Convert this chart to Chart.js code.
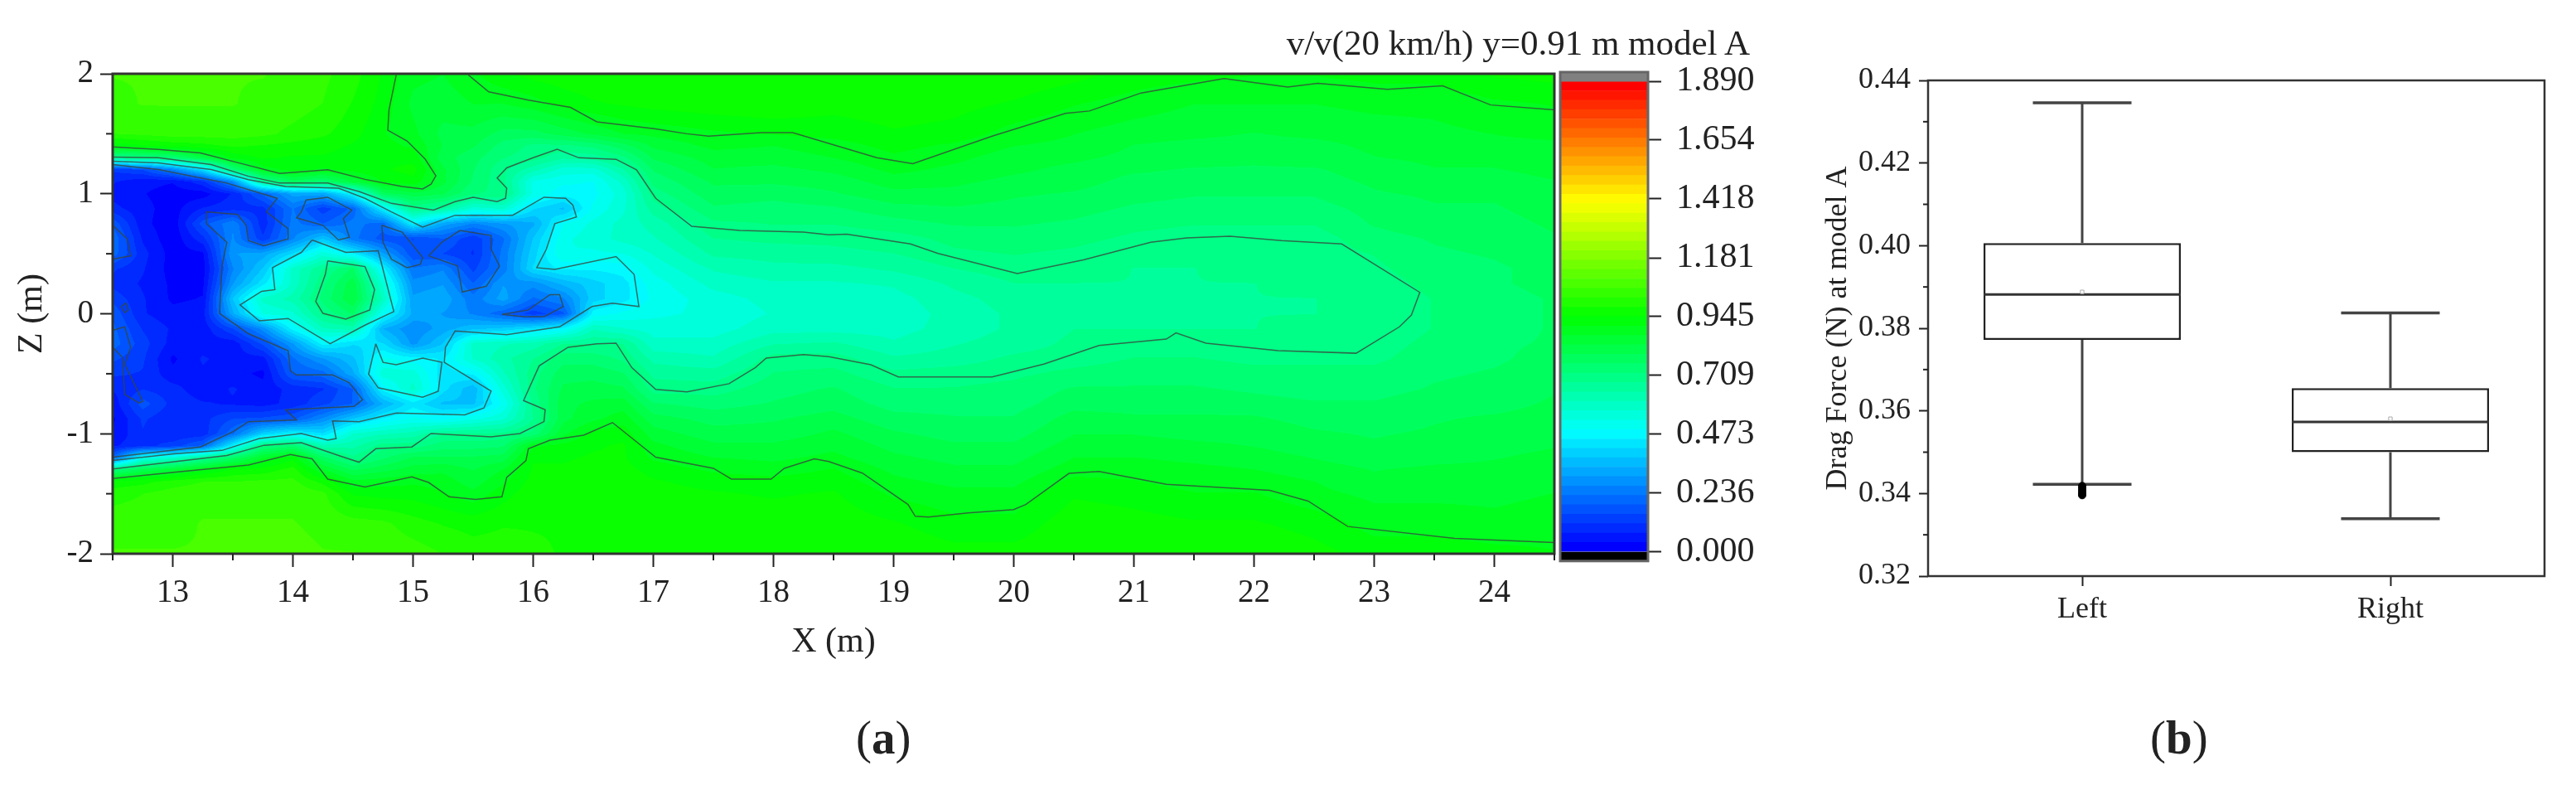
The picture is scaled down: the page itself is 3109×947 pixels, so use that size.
<!DOCTYPE html>
<html lang="en">
<head>
<meta charset="UTF-8">
<title>Velocity contour and drag force at model A</title>
<script src="https://cdn.jsdelivr.net/npm/chart.js"></script>
<style>
    html, body { margin: 0; padding: 0; background: #fff; overflow: hidden; }
    body { width: 3109px; height: 947px; position: relative; font-family: "Liberation Serif", serif; color: #222; }
    canvas { position: absolute; filter: blur(0.6px); }
    .note { position: absolute; white-space: nowrap; line-height: 1; filter: blur(0.5px); }
</style>
</head>
<body>
    <canvas id="contourChart" width="1885" height="800" style="left:0;top:0"></canvas>
    <canvas id="colorbarChart" width="260" height="720" style="left:1880px;top:0"></canvas>
    <canvas id="boxChart" width="959" height="800" style="left:2150px;top:0"></canvas>
    <div class="note" id="fieldTitle" style="right:997px;top:30px;font-size:43px">v/v(20 km/h) y=0.91 m model A</div>
    <div class="note" style="left:1033px;top:861px;font-size:57px">(<b>a</b>)</div>
    <div class="note" style="left:2595px;top:861px;font-size:57px">(<b>b</b>)</div>

<script>
// panel a: grid, v/v x 100, one line per x column
const xColumns = [12.5,12.75,13,13.25,13.5,13.75,14,14.25,14.5,14.75,15,15.25,15.5,15.75,16,16.25,16.5,16.75,17,
    17.5,18,18.5,19,19.5,20,20.5,21,21.5,22,22.5,23,23.5,24,24.5];
const zRows = [2,1.75,1.5,1.4,1.3,1.2,1.1,1,
    .875,.75,.625,.5,.375,.25,.125,0,
    -.125,-.25,-.375,-.5,-.625,-.75,-.875,
    -1,-1.1,-1.2,-1.3,-1.4,-1.5,-1.75,-2];
const fieldColumns = [
    [106,105,102,92,68,12,8,6, 9,18,22,21,12,10,14,18, 20,21,16,12,8,5,3, 4,7,20,72,96,100,105,106],
    [106,106,103,94,70,15,5,4, 5,5,7,9,8,7,8,8, 11,13,12,11,11,17,12, 11,10,52,80,97,102,105,106],
    [106,106,104,96,73,26,4,2, 2,1,1,2,2,3,3,5, 7,6,3,5,9,10,8, 8,13,57,85,100,104,105,106],
    [106,106,104,97,82,42,10,2, 8,17,10,3,2,3,4,6, 5,6,8,7,5,8,10, 9,20,67,90,102,105,106,106],
    [106,106,104,99,92,72,27,8, 10,26,27,30,26,30,38,33, 15,5,6,5,8,7,15, 22,46,76,95,102,105,106,107],
    [106,105,103,98,95,89,67,20, 10,9,12,32,38,44,58,53, 28,16,6,3,5,6,16, 40,71,87,96,103,105,106,107],
    [105,104,101,97,94,92,78,32, 23,24,26,42,58,58,62,56, 47,30,22,19,9,9,18, 47,74,93,100,103,105,106,107],
    [103,102,99,96,94,90,74,32, 13,19,38,55,68,71,73,69, 60,47,30,21,11,14,27, 42,62,77,87,97,103,105,106],
    [100,98,96,94,93,92,84,47, 20,24,24,46,76,82,83,76, 62,42,37,33,19,19,38, 57,63,69,79,88,94,104,106],
    [94,93,91,92,93,94,91,78, 46,21,17,31,47,56,60,50, 34,42,50,55,47,34,46, 60,70,75,82,89,93,103,105],
    [88,86,88,90,93,96,93,82, 69,46,15,16,23,28,31,33, 27,29,47,55,58,44,50, 62,70,80,85,90,93,100,104],
    [87,85,82,83,81,84,84,80, 65,32,19,15,26,30,33,30, 32,38,45,43,43,37,48, 68,74,80,86,89,91,98,102],
    [90,87,82,80,77,76,75,72, 55,26,12,11,14,19,24,26, 37,58,57,46,35,37,52, 68,74,80,83,85,88,97,100],
    [94,87,78,74,72,69,69,71, 57,30,22,24,24,30,32,20, 39,60,63,60,55,50,56, 69,75,81,87,90,93,98,100],
    [96,89,78,71,70,62,52,52, 42,33,38,40,42,28,22,13, 43,62,68,70,71,69,68, 73,90,94,95,96,97,98,99],
    [97,92,81,71,65,55,50,47, 37,49,52,53,46,35,26,18, 47,68,74,78,80,82,82, 86,92,94,95,96,97,98,98],
    [98,94,84,73,66,55,49,48, 50,54,55,52,46,40,40,47, 60,68,74,78,81,84,86, 92,94,95,96,97,97,98,98],
    [98,95,87,78,71,64,58,55, 56,58,58,53,47,44,44,50, 57,68,71,76,80,85,89, 93,95,95,96,97,97,98,98],
    [98,96,88,84,80,76,73,70, 66,62,60,57,54,51,50,52, 55,58,63,67,70,76,81, 85,88,90,93,95,96,98,98],
    [98,97,90,88,85,83,80,78, 75,71,68,65,61,58,55,54, 55,58,61,66,70,74,78, 81,84,87,90,93,95,97,98],
    [98,98,91,87,85,82,80,77, 74,72,69,66,63,60,58,57, 59,64,70,72,74,76,79, 81,84,86,89,92,94,97,98],
    [98,96,92,89,87,84,81,79, 75,72,69,67,63,60,57,57, 59,65,70,73,76,78,81, 84,86,88,91,93,95,97,98],
    [98,97,94,92,90,88,85,82, 78,74,70,68,65,61,59,58, 59,61,65,69,72,74,77, 80,82,84,86,88,90,95,98],
    [98,96,93,90,88,86,84,82, 79,76,73,71,68,65,63,62, 62,64,66,70,72,74,76, 78,80,82,84,86,88,92,96],
    [98,94,89,87,85,84,82,80, 78,76,74,72,70,68,66,65, 65,66,69,71,73,74,76, 78,80,82,84,86,88,92,96],
    [96,91,87,86,84,82,81,79, 77,75,73,71,69,68,68,67, 68,69,70,73,76,78,81, 83,85,87,89,92,94,97,98],
    [93,89,85,83,82,80,78,77, 75,73,71,69,68,68,67,67, 68,70,72,74,76,78,80, 83,85,87,89,91,93,96,98],
    [92,87,84,82,81,79,78,76, 74,72,70,69,68,68,67,67, 68,70,72,74,76,78,80, 82,84,86,88,89,91,95,98],
    [91,87,83,82,80,79,77,76, 74,72,70,69,69,68,68,68, 68,69,71,73,75,77,80, 82,83,85,87,89,91,95,98],
    [91,87,84,82,81,79,78,76, 74,72,70,70,69,69,68,68, 69,69,71,73,74,76,78, 80,81,83,85,87,88,93,96],
    [92,88,85,84,83,81,80,79, 77,76,74,72,71,70,69,69, 69,70,71,73,74,76,77, 79,80,81,83,84,86,89,93],
    [92,88,86,85,84,83,82,80, 79,78,76,75,74,73,72,72, 72,73,74,75,76,78,79, 80,81,82,84,85,86,89,93],
    [95,90,87,86,84,83,82,80, 79,78,77,76,75,75,74,74, 74,75,75,76,77,78,80, 81,82,83,84,85,86,88,92],
    [96,91,88,86,85,84,83,82, 81,80,79,78,77,77,76,76, 76,76,77,78,79,80,81, 82,83,84,85,86,87,89,91]
];

// contour lines as [x, z]
const contourTopRight = [[15.46,1.99],[15.63,1.85],[15.96,1.78],[16.31,1.72],[16.53,1.6],[17.02,1.54],[17.28,1.5],[17.46,1.48],[17.9,1.51],[18.16,1.51],[18.46,1.42],[18.86,1.3],[19.16,1.25],[19.82,1.48],[20.43,1.67],[20.63,1.69],[21.06,1.84],[21.75,1.96],[22.28,1.89],[22.53,1.92],[23.11,1.87],[23.57,1.9],[23.97,1.74],[24.5,1.7]];
const contourTopLeft = [[14.86,1.99],[14.8,1.7],[14.79,1.53],[14.95,1.44],[15.1,1.29],[15.19,1.15],[15.15,1.08],[15.08,1.04],[14.91,1.06],[14.6,1.12],[14.29,1.2],[13.89,1.17],[13.54,1.26],[13.23,1.34],[12.88,1.37],[12.5,1.39]];
const contourBottom = [[12.5,-1.373],[13.01,-1.322],[13.63,-1.26],[13.98,-1.173],[14.16,-1.209],[14.29,-1.378],[14.6,-1.443],[14.99,-1.359],[15.13,-1.406],[15.3,-1.525],[15.52,-1.548],[15.74,-1.525],[15.78,-1.364],[15.94,-1.223],[15.96,-1.125],[16.14,-1.054],[16.42,-1.012],[16.66,-.907],[17.02,-1.195],[17.5,-1.288],[17.65,-1.378],[17.98,-1.378],[18.09,-1.288],[18.34,-1.209],[18.46,-1.232],[18.74,-1.328],[19.12,-1.59],[19.18,-1.688],[19.29,-1.694],[19.62,-1.66],[20,-1.632],[20.1,-1.59],[20.46,-1.33],[20.71,-1.314],[21.27,-1.421],[22.13,-1.471],[22.45,-1.561],[22.78,-1.773],[23.67,-1.872],[24.5,-1.906]];
const contourWakeOuter = [[12.5,1.306],[12.88,1.3],[13.32,1.244],[13.63,1.146],[13.89,1.089],[14.29,1.089],[14.55,1.019],[14.82,.92],[15.17,.864],[15.35,.934],[15.5,.971],[15.7,.934],[15.77,.962],[15.78,1.047],[15.7,1.131],[15.78,1.216],[16,1.3],[16.2,1.371],[16.38,1.3],[16.69,1.287],[16.86,1.2],[17.02,.962],[17.32,.728],[17.72,.694],[18.25,.68],[18.46,.658],[18.61,.663],[19.14,.582],[19.37,.503],[20.03,.336],[20.58,.449],[21.14,.596],[21.44,.632],[21.8,.646],[22.23,.61],[22.73,.582],[23.38,.178],[23.31,-.011],[23.21,-.109],[22.85,-.329],[22.2,-.307],[21.6,-.245],[21.35,-.16],[21.27,-.211],[20.71,-.264],[20.25,-.42],[19.82,-.527],[19.04,-.527],[18.81,-.425],[18.46,-.357],[18.25,-.341],[17.94,-.369],[17.85,-.448],[17.63,-.583],[17.28,-.651],[17.02,-.631],[16.82,-.448],[16.69,-.245],[16.53,-.25],[16.29,-.279],[16.05,-.434],[15.92,-.724],[16.1,-.8],[16.09,-.899],[15.89,-.998],[15.65,-1.026],[15.15,-.998],[14.99,-1.11],[14.69,-1.125],[14.55,-1.237],[14.38,-1.181],[14.07,-1.074],[13.76,-1.096],[13.45,-1.181],[13.1,-1.223],[12.5,-1.294]];
const contourWakeMiddle = [[12.5,1.272],[12.88,1.258],[13.32,1.202],[13.63,1.117],[13.94,1.061],[14.38,1.047],[14.6,.962],[14.82,.849],[15.08,.723],[15.35,.821],[15.83,.821],[16.09,.971],[16.27,.962],[16.33,.906],[16.36,.807],[16.18,.751],[16.11,.539],[16.03,.384],[16.18,.37],[16.69,.477],[16.84,.328],[16.88,.06],[16.66,.088],[16.49,.06],[16.22,-.109],[15.78,-.174],[15.35,-.143],[15.27,-.279],[15.26,-.405],[15.65,-.645],[15.59,-.786],[15.43,-.843],[14.86,-.828],[14.55,-.899],[14.33,-.893],[14.36,-1.04],[14.29,-1.054],[14.07,-.998],[13.72,-1.04],[13.41,-1.139],[13.01,-1.167],[12.5,-1.223]];
const contourWakeCore = [[12.5,1.244],[12.88,1.202],[13.45,1.089],[13.87,.962],[13.78,.849],[13.96,.709],[13.96,.624],[13.76,.567],[13.63,.61],[13.61,.737],[13.54,.827],[13.28,.849],[13.28,.751],[13.45,.596],[13.41,.398],[13.39,.003],[13.63,-.166],[13.96,-.307],[13.98,-.476],[14.03,-.51],[14.33,-.51],[14.47,-.575],[14.58,-.716],[14.51,-.772],[13.94,-.8],[14.03,-.885],[13.63,-.899],[13.5,-.984],[13.23,-1.11],[12.5,-1.195]];
const contourIslands = [
    [[14.07,.849],[14.11,.948],[14.29,.971],[14.49,.864],[14.42,.793],[14.47,.638],[14.38,.615],[14.25,.737],[14.03,.799],[14.07,.849]],
    [[14.74,.737],[14.91,.68],[15.08,.469],[15.06,.412],[14.95,.384],[14.82,.455],[14.75,.596],[14.74,.737]],
    [[15.13,.483],[15.24,.596],[15.39,.694],[15.65,.652],[15.65,.539],[15.72,.398],[15.61,.229],[15.41,.181],[15.37,.398],[15.13,.483]],
    [[15.74,-.005],[15.96,.032],[16.14,.159],[16.22,.159],[16.25,.06],[16.09,-.025],[15.92,-.025],[15.74,-.005]],
    [[14.16,.615],[14.44,.511],[14.71,.525],[14.75,.37],[14.84,.018],[14.6,-.095],[14.31,-.25],[13.96,-.039],[13.72,-.059],[13.56,.074],[13.74,.187],[13.85,.201],[13.83,.384],[14.07,.511],[14.16,.615]],
    [[14.29,.441],[14.6,.393],[14.68,.201],[14.64,.032],[14.44,-.045],[14.25,.003],[14.19,.102],[14.27,.328],[14.29,.441]],
    [[14.69,-.25],[14.75,-.405],[14.86,-.425],[15.08,-.369],[15.24,-.405],[15.21,-.645],[15.08,-.696],[14.71,-.617],[14.63,-.504],[14.69,-.25]],
    [[12.5,.737],[12.62,.624],[12.65,.483],[12.5,.455]],
    [[12.5,-.138],[12.6,-.109],[12.65,-.279],[12.6,-.42],[12.75,-.73],[12.72,-.744],[12.6,-.673],[12.58,-.363],[12.5,-.279]],
    [[12.57,.06],[12.61,.088],[12.63,.032],[12.6,.01],[12.57,.06]]
];

const xTicks = [13,14,15,16,17,18,19,20,21,22,23,24];
const xMinorTicks = [12.5,13.5,14.5,15.5,16.5,17.5,18.5,19.5,20.5,21.5,22.5,23.5,24.5];
const zTicks = [-2,-1,0,1,2];
const zMinorTicks = [-1.5,-.5,.5,1.5];
const colorbarTicks = [0,.236,.473,.709,.945,1.181,1.418,1.654,1.89];

// panel b
const boxLabels = ['Left','Right'];
const boxPositions = [1,2];
const whiskerLow = [.3422,.3339];
const boxLow = [.3772,.35];
const boxMedian = [.3882,.3573];
const boxHigh = [.4006,.3655];
const whiskerHigh = [.4346,.3837];
const boxMean = [.3888,.3581];
const leftOutliers = [.3418,.3412,.3406,.34,.3396];
const dragTicks = [.32,.34,.36,.38,.4,.42,.44];
const dragMinorTicks = [.33,.35,.37,.39,.41,.43];

const serif = '"Liberation Serif", serif';
const inkColor = '#222';
const bandStep = 1.89 / 50;
const colorStops = [[0,0,255],[0,255,255],[0,255,0],[255,255,0],[255,0,0]];

function bandColor(i) {
    const t = Math.min(Math.max(i / 49, 0), 1) * 4;
    const k = Math.min(Math.floor(t), 3), f = t - k;
    const a = colorStops[k], b = colorStops[k + 1];
    return [0,1,2].map(c => Math.round(a[c] + (b[c] - a[c]) * f));
}

function bracket(axis, v) {
    let i = 0;
    const up = axis[1] > axis[0];
    while (i < axis.length - 2 && (up ? v > axis[i + 1] : v < axis[i + 1])) i++;
    return [i, (v - axis[i]) / (axis[i + 1] - axis[i])];
}

// paints the grid as contour bands behind the lines, positions come from the scales
const fieldPlugin = {
    id: 'field',
    beforeDatasetsDraw(chart) {
        const { ctx, chartArea: area, scales } = chart;
        const w = Math.round(area.right - area.left), h = Math.round(area.bottom - area.top);
        const off = document.createElement('canvas');
        off.width = w; off.height = h;
        const octx = off.getContext('2d');
        const img = octx.createImageData(w, h);
        const columns = [];
        for (let px = 0; px < w; px++) columns.push(bracket(xColumns, scales.x.getValueForPixel(area.left + px + .5)));
        let n = 0;
        for (let py = 0; py < h; py++) {
            const [j, fz] = bracket(zRows, scales.y.getValueForPixel(area.top + py + .5));
            for (let px = 0; px < w; px++) {
                const [i, fx] = columns[px];
                const v = (fieldColumns[i][j] * (1 - fx) * (1 - fz) + fieldColumns[i + 1][j] * fx * (1 - fz)
                    + fieldColumns[i][j + 1] * (1 - fx) * fz + fieldColumns[i + 1][j + 1] * fx * fz) / 100;
                const c = bandColor(Math.floor(v / bandStep));
                img.data[n++] = c[0]; img.data[n++] = c[1]; img.data[n++] = c[2]; img.data[n++] = 255;
            }
        }
        octx.putImageData(img, 0, 0);
        ctx.drawImage(off, area.left, area.top);
    }
};

// box round the plot plus the short ticks
const framePlugin = {
    id: 'frame',
    afterDraw(chart, args, opts) {
        const { ctx, chartArea: area, scales } = chart;
        ctx.save();
        ctx.strokeStyle = opts.color;
        ctx.lineWidth = opts.width;
        ctx.strokeRect(area.left, area.top, area.right - area.left, area.bottom - area.top);
        ctx.lineWidth = 2;
        ctx.strokeStyle = inkColor;
        (opts.minorX || []).forEach(v => {
            const x = scales.x.getPixelForValue(v);
            ctx.beginPath(); ctx.moveTo(x, area.bottom); ctx.lineTo(x, area.bottom + opts.minorLength); ctx.stroke();
        });
        (opts.minorY || []).forEach(v => {
            const y = scales.y.getPixelForValue(v);
            ctx.beginPath(); ctx.moveTo(area.left, y); ctx.lineTo(area.left - opts.minorLength, y); ctx.stroke();
        });
        ctx.restore();
    }
};

function fixTicks(values) {
    return scale => { scale.ticks = values.map(v => ({ value: v })); };
}

function contourSet(points) {
    return {
        data: points.map(p => ({ x: p[0], y: p[1] })),
        showLine: true, pointRadius: 0, tension: 0,
        borderColor: 'rgba(55,70,60,0.8)', borderWidth: 1.5
    };
}

new Chart(document.getElementById('contourChart'), {
    type: 'scatter',
    data: {
        datasets: [contourTopRight, contourTopLeft, contourBottom, contourWakeOuter, contourWakeMiddle, contourWakeCore]
            .concat(contourIslands).map(contourSet)
    },
    options: {
        responsive: false, animation: false, devicePixelRatio: 1,
        layout: { padding: { top: 89, right: 9 } },
        plugins: {
            legend: { display: false }, tooltip: { enabled: false },
            frame: { color: '#333', width: 3, minorX: xMinorTicks, minorY: zMinorTicks, minorLength: 8 }
        },
        scales: {
            x: {
                type: 'linear', min: 12.5, max: 24.5,
                afterBuildTicks: fixTicks(xTicks),
                afterFit: s => { s.height = 132; },
                border: { display: false },
                grid: { drawOnChartArea: false, tickLength: 16, tickColor: inkColor, tickWidth: 2 },
                ticks: { color: inkColor, padding: 8, maxRotation: 0, autoSkip: false, font: { family: serif, size: 39 }, callback: v => String(v) },
                title: { display: true, text: 'X (m)', color: inkColor, font: { family: serif, size: 42 }, padding: { top: 0, bottom: 0 } }
            },
            y: {
                type: 'linear', min: -2, max: 2,
                afterBuildTicks: fixTicks(zTicks),
                afterFit: s => { s.width = 136; },
                border: { display: false },
                grid: { drawOnChartArea: false, tickLength: 15, tickColor: inkColor, tickWidth: 2 },
                ticks: { color: inkColor, padding: 8, autoSkip: false, font: { family: serif, size: 39 }, callback: v => String(v) },
                title: { display: true, text: 'Z (m)', color: inkColor, font: { family: serif, size: 42 }, padding: { top: 14, bottom: 0 } }
            }
        }
    },
    plugins: [fieldPlugin, framePlugin]
});

// colour bar: one floating bar per band, over/under caps on the ends
const barTop = 1.927, barBottom = -.037;
const barSets = [{ data: [[1.89, barTop]], backgroundColor: '#808080' }, { data: [[barBottom, 0]], backgroundColor: '#000' }];
for (let i = 0; i < 50; i++) {
    const c = bandColor(i);
    barSets.push({ data: [[i * bandStep, (i + 1) * bandStep]], backgroundColor: 'rgb(' + c.join(',') + ')' });
}
barSets.forEach(s => { s.barPercentage = 1; s.categoryPercentage = 1; s.grouped = false; });

new Chart(document.getElementById('colorbarChart'), {
    type: 'bar',
    data: { labels: ['v/v'], datasets: barSets },
    options: {
        responsive: false, animation: false, devicePixelRatio: 1,
        layout: { padding: { top: 87, left: 3 } },
        plugins: {
            legend: { display: false }, tooltip: { enabled: false },
            frame: { color: '#666', width: 3 }
        },
        scales: {
            x: { display: false },
            y: {
                position: 'right', min: barBottom, max: barTop,
                afterBuildTicks: fixTicks(colorbarTicks),
                afterFit: s => { s.width = 151; },
                border: { display: false },
                grid: { drawOnChartArea: false, tickLength: 16, tickColor: inkColor, tickWidth: 2 },
                ticks: { color: inkColor, padding: 18, autoSkip: false, font: { family: serif, size: 42 }, callback: v => v.toFixed(3) }
            }
        }
    },
    plugins: [framePlugin]
});

// panel b: boxes are floating bars, whiskers and medians are lines on a hidden linear x
const whiskerLine = [];
const capLine = [];
const medianLine = [];
boxPositions.forEach((p, i) => {
    whiskerLine.push({ x: p, y: whiskerLow[i] }, { x: p, y: boxLow[i] }, { x: p, y: null });
    whiskerLine.push({ x: p, y: boxHigh[i] }, { x: p, y: whiskerHigh[i] }, { x: p, y: null });
    capLine.push({ x: p - .16, y: whiskerLow[i] }, { x: p + .16, y: whiskerLow[i] }, { x: p, y: null });
    capLine.push({ x: p - .16, y: whiskerHigh[i] }, { x: p + .16, y: whiskerHigh[i] }, { x: p, y: null });
    medianLine.push({ x: p - .32, y: boxMedian[i] }, { x: p + .32, y: boxMedian[i] }, { x: p, y: null });
});

function lineSet(data, color, width) {
    return { type: 'scatter', xAxisID: 'x2', data: data, showLine: true, spanGaps: false, pointRadius: 0, borderColor: color, borderWidth: width, order: 1 };
}

new Chart(document.getElementById('boxChart'), {
    type: 'bar',
    data: {
        labels: boxLabels,
        datasets: [
            {
                data: boxLow.map((v, i) => [v, boxHigh[i]]),
                backgroundColor: '#fff', borderColor: '#222', borderWidth: 2.5, borderSkipped: false,
                barPercentage: .64, categoryPercentage: 1, grouped: false, order: 3
            },
            lineSet(whiskerLine, '#444', 3),
            lineSet(capLine, '#444', 3.5),
            lineSet(medianLine, '#333', 3),
            {
                type: 'scatter', xAxisID: 'x2', order: 0,
                data: boxPositions.map((p, i) => ({ x: p, y: boxMean[i] })),
                pointStyle: 'rect', pointRadius: 3, backgroundColor: '#fff', borderColor: '#aaa', borderWidth: 1
            },
            {
                type: 'scatter', xAxisID: 'x2', order: 0,
                data: leftOutliers.map(v => ({ x: boxPositions[0], y: v })),
                pointStyle: 'circle', pointRadius: 4.5, backgroundColor: '#000', borderColor: '#000'
            }
        ]
    },
    options: {
        responsive: false, animation: false, devicePixelRatio: 1,
        layout: { padding: { top: 97, right: 38 } },
        plugins: {
            legend: { display: false }, tooltip: { enabled: false },
            frame: { color: '#333', width: 2.5, minorY: dragMinorTicks, minorLength: 6 }
        },
        scales: {
            x: {
                type: 'category', offset: true,
                afterFit: s => { s.height = 105; },
                border: { display: false },
                grid: { drawOnChartArea: false, offset: false, tickLength: 12, tickColor: inkColor, tickWidth: 2 },
                ticks: { color: inkColor, padding: 7, maxRotation: 0, font: { family: serif, size: 36 } }
            },
            x2: { type: 'linear', display: false, offset: false, min: .5, max: 2.5 },
            y: {
                min: .32, max: .44,
                afterBuildTicks: fixTicks(dragTicks),
                afterFit: s => { s.width = 177; },
                border: { display: false },
                grid: { drawOnChartArea: false, tickLength: 11, tickColor: inkColor, tickWidth: 2 },
                ticks: { color: inkColor, padding: 10, autoSkip: false, font: { family: serif, size: 36 }, callback: v => v.toFixed(2) },
                title: { display: true, text: 'Drag Force (N) at model A', color: inkColor, font: { family: serif, size: 36 }, padding: { top: 47, bottom: 0 } }
            }
        }
    },
    plugins: [framePlugin]
});
</script>
</body>
</html>
